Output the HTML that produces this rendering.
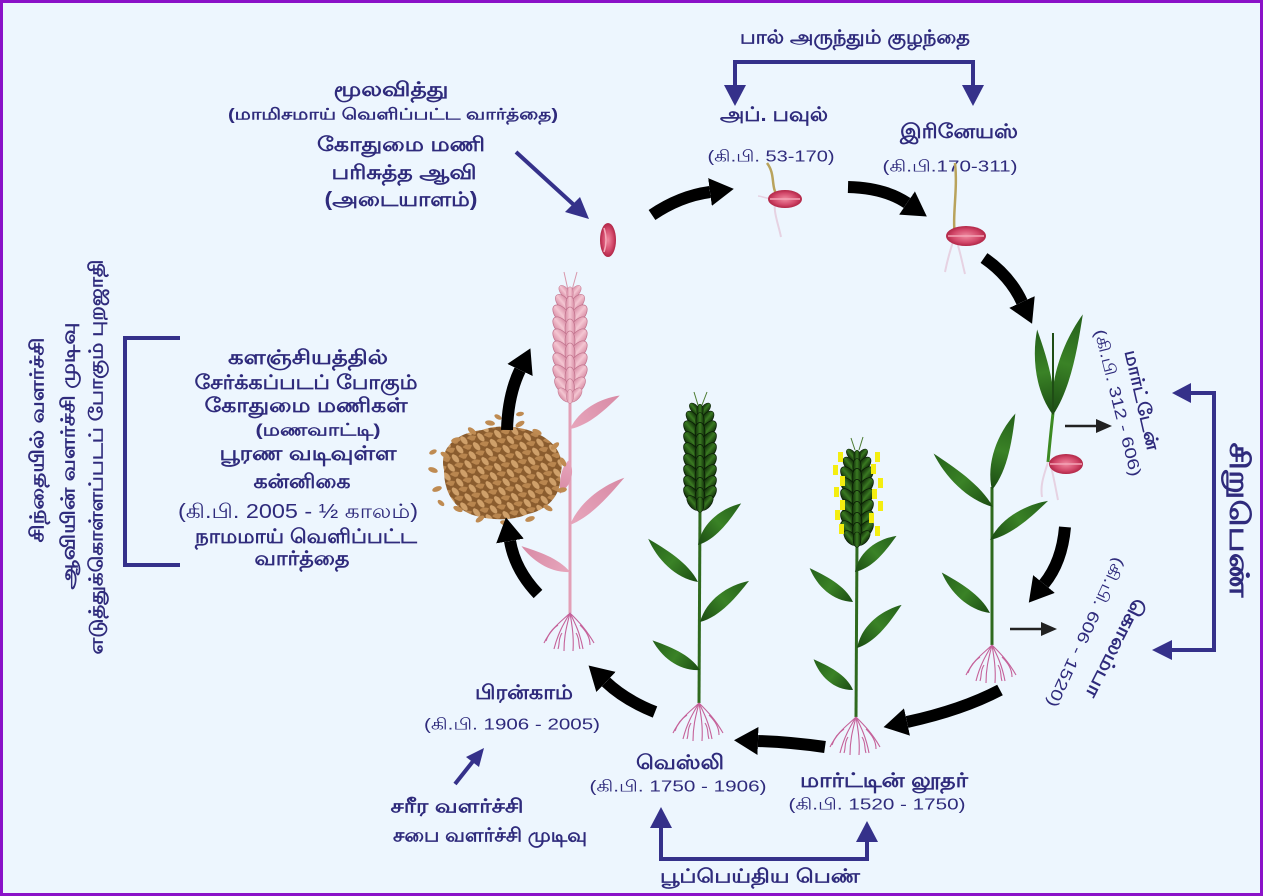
<!DOCTYPE html>
<html><head><meta charset="utf-8">
<style>
html,body{margin:0;padding:0;background:#edf6fe;}
svg{display:block;}
text{font-family:"Liberation Sans",sans-serif;fill:#2f2b7c;}
.b{font-weight:bold;}
</style></head>
<body>
<svg width="1263" height="896" viewBox="0 0 1263 896" xmlns="http://www.w3.org/2000/svg">
<defs>
  <radialGradient id="seedG" cx="50%" cy="50%" r="55%">
    <stop offset="0" stop-color="#f08aa0"/>
    <stop offset="0.6" stop-color="#d2486a"/>
    <stop offset="1" stop-color="#a81c3c"/>
  </radialGradient>
  <linearGradient id="leafG" x1="0" y1="0" x2="1" y2="0">
    <stop offset="0" stop-color="#1a4a12"/>
    <stop offset="0.5" stop-color="#3a8226"/>
    <stop offset="1" stop-color="#24601a"/>
  </linearGradient>
  <linearGradient id="pleafG" x1="0" y1="0" x2="1" y2="0">
    <stop offset="0" stop-color="#e7a6bc"/>
    <stop offset="1" stop-color="#d88aa5"/>
  </linearGradient>
  <linearGradient id="pspkG" x1="0" y1="0" x2="1" y2="0">
    <stop offset="0" stop-color="#d98ea6"/>
    <stop offset="0.5" stop-color="#f4c6d2"/>
    <stop offset="1" stop-color="#d98ea6"/>
  </linearGradient>
  <linearGradient id="gspkG" x1="0" y1="0" x2="1" y2="0">
    <stop offset="0" stop-color="#0f2a08"/>
    <stop offset="0.5" stop-color="#3a7a22"/>
    <stop offset="1" stop-color="#0f2a08"/>
  </linearGradient>
  <pattern id="grains" width="14" height="10" patternUnits="userSpaceOnUse" patternTransform="rotate(25)">
    <rect width="14" height="10" fill="#8a5c2e"/>
    <ellipse cx="4.5" cy="3" rx="5" ry="2.6" fill="#cfa06a" transform="rotate(25 4.5 3)"/>
    <ellipse cx="11" cy="7.5" rx="5" ry="2.6" fill="#b9864f" transform="rotate(-30 11 7.5)"/>
  </pattern>
  <g id="pspk" fill="url(#pspkG)" stroke="#c0728c" stroke-width="0.7">
    <ellipse cx="-8" cy="0" rx="6.5" ry="12" transform="rotate(-40 -8 0)"/>
    <ellipse cx="8" cy="0" rx="6.5" ry="12" transform="rotate(40 8 0)"/>
    <ellipse cx="0" cy="2" rx="5" ry="10"/>
  </g>
  <g id="gspk" fill="url(#gspkG)" stroke="#071804" stroke-width="0.7">
    <ellipse cx="-8" cy="0" rx="6" ry="11" transform="rotate(-40 -8 0)"/>
    <ellipse cx="8" cy="0" rx="6" ry="11" transform="rotate(40 8 0)"/>
    <ellipse cx="0" cy="2" rx="5" ry="9.5"/>
  </g>
  <path id="leaf" d="M0,0 C30,-10 70,-8 100,0 C70,3 30,7 0,0 Z"/>
  <g id="roots" fill="none" stroke="#c5629a" stroke-width="1.1">
    <path d="M0,0 C-8,8 -18,14 -26,30"/>
    <path d="M0,0 C-6,10 -12,20 -16,36"/>
    <path d="M0,0 C-3,12 -6,22 -6,38"/>
    <path d="M0,0 C2,12 4,24 3,38"/>
    <path d="M0,0 C5,10 10,20 13,36"/>
    <path d="M0,0 C8,8 16,16 24,30"/>
    <path d="M-12,12 C-18,16 -22,22 -24,28"/>
    <path d="M10,12 C16,18 20,24 20,32"/>
    <path d="M-8,20 C-12,26 -10,30 -12,36"/>
    <path d="M6,20 C10,26 8,30 10,36"/>
  </g>
  <marker id="bh" markerWidth="26" markerHeight="30" refX="0" refY="15" orient="auto" markerUnits="userSpaceOnUse">
    <path d="M0,1 L24,15 L0,29 Z" fill="#000"/>
  </marker>
</defs>

<!-- background & border -->
<rect x="0" y="0" width="1263" height="896" fill="#edf6fe"/>
<rect x="1.5" y="1.5" width="1260" height="893" fill="none" stroke="#8a12c8" stroke-width="3"/>

<!-- ===== TOP-LEFT TEXT ===== -->
<g text-anchor="middle" dominant-baseline="central">
  <text x="391" y="90" font-size="20" class="b" textLength="115" lengthAdjust="spacingAndGlyphs">மூலவித்து</text>
  <text x="393" y="115" font-size="16" class="b" textLength="330" lengthAdjust="spacingAndGlyphs">(மாமிசமாய் வெளிப்பட்ட வார்த்தை)</text>
  <text x="401" y="145" font-size="20" class="b" textLength="168" lengthAdjust="spacingAndGlyphs">கோதுமை மணி</text>
  <text x="404" y="173" font-size="20" class="b" textLength="145" lengthAdjust="spacingAndGlyphs">பரிசுத்த ஆவி</text>
  <text x="401" y="200" font-size="20" class="b" textLength="153" lengthAdjust="spacingAndGlyphs">(அடையாளம்)</text>
</g>
<line x1="516" y1="152" x2="574" y2="205" stroke="#35318a" stroke-width="4"/>
<polygon points="589,219 565,212 580,197" fill="#35318a"/>

<!-- ===== TOP BRACKET ===== -->
<text x="855" y="38" font-size="19" class="b" text-anchor="middle" dominant-baseline="central" textLength="230" lengthAdjust="spacingAndGlyphs">பால் அருந்தும் குழந்தை</text>
<path d="M735,88 L735,62 L973,62 L973,88" fill="none" stroke="#35318a" stroke-width="4"/>
<polygon points="724,85 746,85 735,106" fill="#35318a"/>
<polygon points="962,85 984,85 973,106" fill="#35318a"/>

<g text-anchor="middle" dominant-baseline="central">
  <text x="774" y="115" font-size="20" class="b" textLength="108" lengthAdjust="spacingAndGlyphs">அப். பவுல்</text>
  <text x="771" y="157" font-size="16" textLength="127" lengthAdjust="spacingAndGlyphs">(கி.பி. 53-170)</text>
  <text x="959" y="132" font-size="20" class="b" textLength="118" lengthAdjust="spacingAndGlyphs">இரினேயஸ்</text>
  <text x="950" y="167" font-size="16" textLength="135" lengthAdjust="spacingAndGlyphs">(கி.பி.170-311)</text>
</g>

<!-- ===== SEEDS ===== -->
<ellipse cx="608" cy="240" rx="8" ry="17" fill="url(#seedG)"/>
<path d="M604,228 Q608,240 604,252" stroke="#f4a8b8" stroke-width="1.5" fill="none"/>

<!-- sprout 1 -->
<path d="M778,198 C770,185 776,175 767,163" stroke="#b9a35c" stroke-width="2.5" fill="none"/>
<path d="M776,198 C772,210 778,222 781,237" stroke="#e6d2e2" stroke-width="2" fill="none"/>
<path d="M776,198 C768,200 762,196 758,196" stroke="#e6d2e2" stroke-width="1.5" fill="none"/>
<ellipse cx="785" cy="199" rx="17" ry="9" fill="url(#seedG)"/>
<path d="M770,199 L800,199" stroke="#f3a4b6" stroke-width="1.5"/>

<!-- sprout 2 -->
<path d="M955,236 C952,215 958,190 955,163" stroke="#b9a35c" stroke-width="2.5" fill="none"/>
<path d="M955,236 C950,250 947,262 945,272" stroke="#e6d2e2" stroke-width="2" fill="none"/>
<path d="M955,236 C960,250 962,262 965,274" stroke="#e6d2e2" stroke-width="2" fill="none"/>
<ellipse cx="966" cy="236" rx="20" ry="10" fill="url(#seedG)"/>
<path d="M948,236 L984,236" stroke="#f3a4b6" stroke-width="1.5"/>

<!-- ===== SEEDLING (x~1053) ===== -->
<path d="M1053,413 Q1050,440 1048,462" stroke="#3c8a22" stroke-width="3" fill="none"/>
<use href="#leaf" fill="url(#leafG)" transform="translate(1053,415) rotate(-100.5) scale(0.87,1.3)"/>
<use href="#leaf" fill="url(#leafG)" transform="translate(1053,415) rotate(-73.5) scale(1.05,1.4)"/>
<line x1="1053" y1="413" x2="1053" y2="333" stroke="#1f4d15" stroke-width="2"/>
<path d="M1048,462 C1044,475 1040,485 1042,497" stroke="#e6d2e2" stroke-width="2" fill="none"/>
<path d="M1050,462 C1054,478 1056,490 1058,500" stroke="#e6d2e2" stroke-width="2" fill="none"/>
<ellipse cx="1066" cy="464" rx="17" ry="10" fill="url(#seedG)"/>
<path d="M1050,464 L1082,464" stroke="#f3a4b6" stroke-width="1.5"/>

<!-- ===== YOUNG PLANT (x~992) ===== -->
<line x1="992" y1="487" x2="992" y2="645" stroke="#2f6a1e" stroke-width="3"/>
<use href="#leaf" fill="url(#leafG)" transform="translate(992,490) rotate(-73) scale(0.8,1.4)"/>
<use href="#leaf" fill="url(#leafG)" transform="translate(993,507) rotate(-138) scale(0.8,1.2)"/>
<use href="#leaf" fill="url(#leafG)" transform="translate(990,540) rotate(-34) scale(0.7,1.2)"/>
<use href="#leaf" fill="url(#leafG)" transform="translate(990,613) rotate(-140) scale(0.63,1.2)"/>
<use href="#roots" transform="translate(992,645)"/>

<!-- ===== PLANT B (yellow anthers, x~857) ===== -->
<line x1="857" y1="540" x2="856" y2="717" stroke="#2f6a1e" stroke-width="3"/>
<use href="#leaf" fill="url(#leafG)" transform="translate(855,572) rotate(-41) scale(0.55,1.3)"/>
<use href="#leaf" fill="url(#leafG)" transform="translate(853,602) rotate(-142) scale(0.55,1.2)"/>
<use href="#leaf" fill="url(#leafG)" transform="translate(857,648) rotate(-44) scale(0.62,1.3)"/>
<use href="#leaf" fill="url(#leafG)" transform="translate(853,690) rotate(-142) scale(0.5,1.2)"/>
<line x1="855" y1="450" x2="851" y2="438" stroke="#4a7a30" stroke-width="1"/>
<line x1="859" y1="450" x2="863" y2="437" stroke="#4a7a30" stroke-width="1"/>
<use href="#gspk" transform="translate(857,455) scale(0.65)"/>
<use href="#gspk" transform="translate(857,465) scale(0.85)"/>
<use href="#gspk" x="857" y="476"/>
<use href="#gspk" x="857" y="487"/>
<use href="#gspk" x="857" y="498"/>
<use href="#gspk" x="857" y="509"/>
<use href="#gspk" x="857" y="520"/>
<use href="#gspk" x="857" y="530"/>
<use href="#gspk" transform="translate(857,538) scale(0.8)"/>
<g fill="#f4ee10">
  <rect x="838" y="452" width="5" height="10"/>
  <rect x="833" y="465" width="5" height="10"/>
  <rect x="840" y="476" width="5" height="10"/>
  <rect x="834" y="487" width="5" height="10"/>
  <rect x="840" y="500" width="5" height="10"/>
  <rect x="835" y="510" width="5" height="10"/>
  <rect x="839" y="524" width="5" height="10"/>
  <rect x="875" y="452" width="5" height="10"/>
  <rect x="871" y="464" width="5" height="10"/>
  <rect x="878" y="478" width="5" height="10"/>
  <rect x="872" y="489" width="5" height="10"/>
  <rect x="878" y="501" width="5" height="10"/>
  <rect x="869" y="513" width="5" height="10"/>
  <rect x="875" y="526" width="5" height="10"/>
</g>
<use href="#roots" transform="translate(856,717)"/>

<!-- ===== PLANT A (dark ear, x~700) ===== -->
<line x1="700" y1="505" x2="699" y2="703" stroke="#2f6a1e" stroke-width="3"/>
<use href="#leaf" fill="url(#leafG)" transform="translate(698,545) rotate(-44) scale(0.6,1.3)"/>
<use href="#leaf" fill="url(#leafG)" transform="translate(698,582) rotate(-139) scale(0.66,1.2)"/>
<use href="#leaf" fill="url(#leafG)" transform="translate(700,622) rotate(-40) scale(0.64,1.3)"/>
<use href="#leaf" fill="url(#leafG)" transform="translate(700,670) rotate(-148) scale(0.56,1.2)"/>
<line x1="698" y1="405" x2="694" y2="392" stroke="#4a7a30" stroke-width="1"/>
<line x1="702" y1="405" x2="707" y2="392" stroke="#4a7a30" stroke-width="1"/>
<use href="#gspk" transform="translate(700,409) scale(0.65)"/>
<use href="#gspk" transform="translate(700,419) scale(0.85)"/>
<use href="#gspk" x="700" y="430"/>
<use href="#gspk" x="700" y="441"/>
<use href="#gspk" x="700" y="452"/>
<use href="#gspk" x="700" y="463"/>
<use href="#gspk" x="700" y="474"/>
<use href="#gspk" x="700" y="485"/>
<use href="#gspk" x="700" y="495"/>
<use href="#gspk" transform="translate(700,503) scale(0.8)"/>
<use href="#roots" transform="translate(699,703)"/>

<!-- ===== PINK WHEAT (x~570) ===== -->
<line x1="570" y1="395" x2="570" y2="613" stroke="#e3a0b7" stroke-width="3"/>
<use href="#leaf" fill="url(#pleafG)" transform="translate(570,429) rotate(-34) scale(0.6,1.1)"/>
<use href="#leaf" fill="url(#pleafG)" transform="translate(569,460) rotate(105) scale(0.35,1.0)"/>
<use href="#leaf" fill="url(#pleafG)" transform="translate(570,525) rotate(-41) scale(0.72,1.1)"/>
<use href="#leaf" fill="url(#pleafG)" transform="translate(570,572) rotate(-152) scale(0.55,1.0)"/>
<line x1="568" y1="290" x2="564" y2="272" stroke="#d897ab" stroke-width="1"/>
<line x1="572" y1="290" x2="577" y2="272" stroke="#d897ab" stroke-width="1"/>
<use href="#pspk" transform="translate(570,292) scale(0.65)"/>
<use href="#pspk" transform="translate(570,303) scale(0.85)"/>
<use href="#pspk" x="570" y="315"/>
<use href="#pspk" x="570" y="327"/>
<use href="#pspk" x="570" y="339"/>
<use href="#pspk" x="570" y="351"/>
<use href="#pspk" x="570" y="363"/>
<use href="#pspk" x="570" y="375"/>
<use href="#pspk" transform="translate(570,386) scale(0.9)"/>
<use href="#pspk" transform="translate(570,395) scale(0.7)"/>
<use href="#roots" transform="translate(570,613)"/>

<!-- ===== GRAIN PILE ===== -->
<path d="M444,470 C438,446 460,432 482,430 C498,424 522,426 538,434 C556,442 566,458 560,476 C562,494 548,510 528,514 C510,522 486,520 470,514 C452,506 444,490 444,470 Z" fill="url(#grains)"/>
<g fill="#bf8b52">
  <ellipse cx="433" cy="470" rx="5" ry="2.5" transform="rotate(20 433 470)"/>
  <ellipse cx="437" cy="489" rx="5" ry="2.5" transform="rotate(-20 437 489)"/>
  <ellipse cx="445" cy="455" rx="5" ry="2.5" transform="rotate(30 445 455)"/>
  <ellipse cx="456" cy="440" rx="5" ry="2.5" transform="rotate(-15 456 440)"/>
  <ellipse cx="472" cy="431" rx="5" ry="2.5" transform="rotate(40 472 431)"/>
  <ellipse cx="490" cy="423" rx="5" ry="2.5" transform="rotate(10 490 423)"/>
  <ellipse cx="520" cy="424" rx="5" ry="2.5" transform="rotate(-30 520 424)"/>
  <ellipse cx="537" cy="432" rx="5" ry="2.5" transform="rotate(25 537 432)"/>
  <ellipse cx="555" cy="446" rx="5" ry="2.5" transform="rotate(-40 555 446)"/>
  <ellipse cx="563" cy="462" rx="5" ry="2.5" transform="rotate(60 563 462)"/>
  <ellipse cx="562" cy="490" rx="5" ry="2.5" transform="rotate(-10 562 490)"/>
  <ellipse cx="548" cy="508" rx="5" ry="2.5" transform="rotate(30 548 508)"/>
  <ellipse cx="530" cy="519" rx="5" ry="2.5" transform="rotate(-20 530 519)"/>
  <ellipse cx="505" cy="523" rx="5" ry="2.5" transform="rotate(15 505 523)"/>
  <ellipse cx="480" cy="519" rx="5" ry="2.5" transform="rotate(-35 480 519)"/>
  <ellipse cx="458" cy="509" rx="5" ry="2.5" transform="rotate(25 458 509)"/>
  <ellipse cx="433" cy="452" rx="4" ry="2.2" transform="rotate(-25 433 452)"/>
  <ellipse cx="441" cy="503" rx="4" ry="2.2" transform="rotate(40 441 503)"/>
  <ellipse cx="520" cy="414" rx="4" ry="2.2" transform="rotate(-10 520 414)"/>
  <ellipse cx="498" cy="417" rx="4" ry="2.2" transform="rotate(30 498 417)"/>
</g>

<!-- ===== BLACK CYCLE ARROWS ===== -->
<g fill="none" stroke="#000" stroke-width="12" marker-end="url(#bh)">
  <path d="M652,215 Q680,196 710,192"/>
  <path d="M848,187 Q885,188 907,203"/>
  <path d="M984,258 Q1010,276 1022,302"/>
  <path d="M1065,527 Q1062,562 1044,584"/>
  <path d="M1000,690 Q962,710 907,722"/>
  <path d="M825,747 Q790,742 758,741"/>
  <path d="M655,712 Q625,700 606,682"/>
  <path d="M538,594 Q515,570 510,541"/>
  <path d="M507,430 Q508,395 520,370"/>
</g>

<!-- small grey arrows -->
<line x1="1065" y1="426" x2="1097" y2="426" stroke="#222" stroke-width="2.5"/>
<polygon points="1112,426 1096,419 1096,433" fill="#222"/>
<line x1="1010" y1="629" x2="1042" y2="629" stroke="#222" stroke-width="2.5"/>
<polygon points="1057,629 1041,622 1041,636" fill="#222"/>

<!-- ===== CENTRAL TEXT BLOCK ===== -->
<g text-anchor="middle" dominant-baseline="central" font-size="20" class="b">
  <text x="308" y="358" textLength="160" lengthAdjust="spacingAndGlyphs">களஞ்சியத்தில்</text>
  <text x="306" y="383" textLength="223" lengthAdjust="spacingAndGlyphs">சேர்க்கப்படப் போகும்</text>
  <text x="306" y="406" textLength="203" lengthAdjust="spacingAndGlyphs">கோதுமை மணிகள்</text>
  <text x="318" y="430" font-size="17" textLength="125" lengthAdjust="spacingAndGlyphs">(மணவாட்டி)</text>
  <text x="308" y="454" textLength="177" lengthAdjust="spacingAndGlyphs">பூரண  வடிவுள்ள</text>
  <text x="302" y="482" textLength="97" lengthAdjust="spacingAndGlyphs">கன்னிகை</text>
  <text x="298" y="512" font-weight="normal" textLength="240" lengthAdjust="spacingAndGlyphs">(கி.பி. 2005 - ½ காலம்)</text>
  <text x="306" y="537" textLength="222" lengthAdjust="spacingAndGlyphs">நாமமாய் வெளிப்பட்ட</text>
  <text x="302" y="559" textLength="95" lengthAdjust="spacingAndGlyphs">வார்த்தை</text>
</g>

<!-- left bracket -->
<path d="M180,338 L125,338 L125,565 L180,565" fill="none" stroke="#35318a" stroke-width="4"/>

<!-- left rotated text -->
<g text-anchor="middle" dominant-baseline="central" font-size="19" class="b">
  <text transform="translate(38,440) rotate(-90)" textLength="205" lengthAdjust="spacingAndGlyphs">சிந்தையில் வளர்ச்சி</text>
  <text transform="translate(69,456) rotate(-90)" textLength="267" lengthAdjust="spacingAndGlyphs">ஆவியின் வளர்ச்சி முடிவு</text>
  <text transform="translate(97,457) rotate(-90)" textLength="395" lengthAdjust="spacingAndGlyphs">எடுத்துக்கொள்ளப்படப் போகும் புறஜாதி</text>
</g>

<!-- ===== RIGHT SIDE ===== -->
<path d="M1190,393 L1214,393 L1214,650 L1171,650" fill="none" stroke="#35318a" stroke-width="4"/>
<polygon points="1172,393 1191,383 1191,403" fill="#35318a"/>
<polygon points="1152,650 1172,640 1172,660" fill="#35318a"/>
<text transform="translate(1239,520) rotate(90)" text-anchor="middle" dominant-baseline="central" font-size="27" class="b" textLength="155" lengthAdjust="spacingAndGlyphs">சிறுபெண்</text>

<g text-anchor="middle" dominant-baseline="central">
  <text transform="translate(1142,400) rotate(77)" font-size="18" class="b" textLength="102" lengthAdjust="spacingAndGlyphs">மார்ட்டேன்</text>
  <text transform="translate(1117,403) rotate(76)" font-size="16" textLength="151" lengthAdjust="spacingAndGlyphs">(கி.பி. 312 - 606)</text>
  <text transform="translate(1115,648) rotate(117)" font-size="19" class="b" textLength="109" lengthAdjust="spacingAndGlyphs">கொலம்பா</text>
  <text transform="translate(1085,632) rotate(115)" font-size="16" textLength="163" lengthAdjust="spacingAndGlyphs">(கி.பி. 606 - 1520)</text>
</g>

<!-- ===== BOTTOM LABELS ===== -->
<g text-anchor="middle" dominant-baseline="central">
  <text x="524" y="693" font-size="20" class="b" textLength="98" lengthAdjust="spacingAndGlyphs">பிரன்காம்</text>
  <text x="512" y="725" font-size="16" textLength="176" lengthAdjust="spacingAndGlyphs">(கி.பி. 1906 - 2005)</text>
  <text x="457" y="807" font-size="19" class="b" textLength="133" lengthAdjust="spacingAndGlyphs">சரீர வளர்ச்சி</text>
  <text x="490" y="836" font-size="19" class="b" textLength="194" lengthAdjust="spacingAndGlyphs">சபை வளர்ச்சி முடிவு</text>
  <text x="680" y="763" font-size="20" class="b" textLength="88" lengthAdjust="spacingAndGlyphs">வெஸ்லி</text>
  <text x="678" y="787" font-size="16" textLength="177" lengthAdjust="spacingAndGlyphs">(கி.பி. 1750 - 1906)</text>
  <text x="884" y="781" font-size="20" class="b" textLength="168" lengthAdjust="spacingAndGlyphs">மார்ட்டின் லூதர்</text>
  <text x="877" y="805" font-size="16" textLength="177" lengthAdjust="spacingAndGlyphs">(கி.பி. 1520 - 1750)</text>
  <text x="760" y="877" font-size="19" class="b" textLength="200" lengthAdjust="spacingAndGlyphs">பூப்பெய்திய பெண்</text>
</g>

<line x1="455" y1="784" x2="474" y2="760" stroke="#35318a" stroke-width="4"/>
<polygon points="484,748 466,757 479,767" fill="#35318a"/>

<path d="M661,826 L661,859 L867,859 L867,840" fill="none" stroke="#35318a" stroke-width="4"/>
<polygon points="661,807 650,828 672,828" fill="#35318a"/>
<polygon points="867,821 856,842 878,842" fill="#35318a"/>

</svg>
</body></html>
